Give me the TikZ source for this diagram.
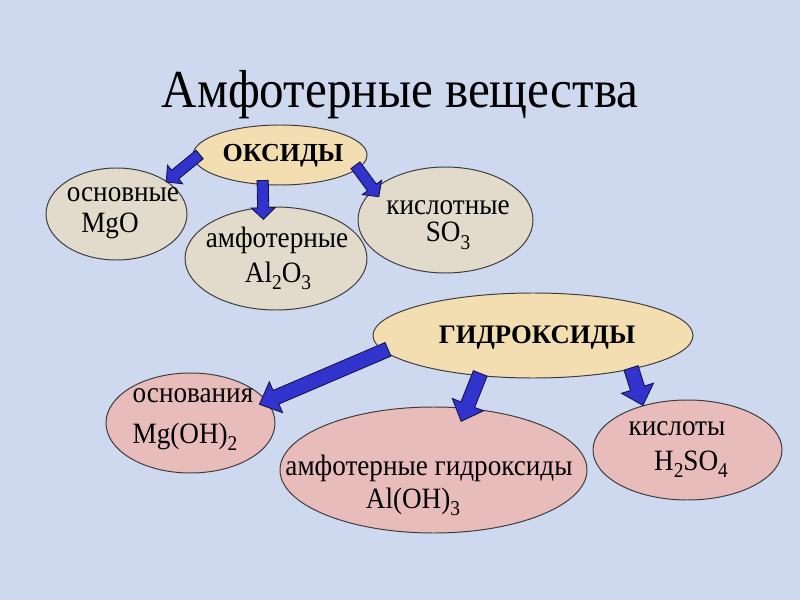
\documentclass[tikz,border=0pt]{standalone}
\usepackage{fontspec}
\setmainfont{Liberation Serif}
\newfontfamily\slidefont{Liberation Serif}[FakeStretch=0.92]
\usepackage{tikz}
\usetikzlibrary{shapes.geometric}
\usetikzlibrary{calc}

\definecolor{slidebg}{RGB}{206,217,240}
\definecolor{tanfill}{RGB}{243,222,177}
\definecolor{greyfill}{RGB}{226,218,202}
\definecolor{pinkfill}{RGB}{233,188,188}
\definecolor{ovalline}{RGB}{60,60,60}
\definecolor{arrowblue}{RGB}{50,50,205}
\definecolor{arrowline}{RGB}{20,20,70}

\newcommand{\aw}{0.14cm}
\newcommand{\ahw}{0.3cm}
\newcommand{\ahl}{0.29cm}
\newcommand{\idx}[1]{\raisebox{-0.27em}{\fontsize{15}{15}\selectfont #1}}

\tikzset{
  oval/.style={ellipse,draw=ovalline,line width=0.7pt,inner sep=0pt},
  txt/.style={anchor=base,inner sep=0pt,font=\slidefont\fontsize{21}{25}\selectfont},
  head/.style={anchor=base,inner sep=0pt,font=\fontsize{18.5}{22}\selectfont\bfseries},
  arrowbody/.style={draw=arrowline,fill=arrowblue,line width=0.6pt,line join=miter},
  big arrow/.code={\def\aw{0.185cm}\def\ahw{0.42cm}\def\ahl{0.45cm}}
}

\newcommand{\blockarrow}[5][]{%
  \path[arrowbody,#1] let \p1=(#2), \p2=(#3),
    \n1={atan2(\y2-\y1,\x2-\x1)}, \n2={veclen(\x2-\x1,\y2-\y1)+#5},
    \n3={\n2-\ahl} in
    [shift={(\p1)},rotate=\n1]
    (-#4,-\aw) -- (\n3,-\aw) -- (\n3,-\ahw) -- (\n2,0pt)
    -- (\n3,\ahw) -- (\n3,\aw) -- (-#4,\aw) -- cycle;}

\begin{document}
\begin{tikzpicture}
  \fill[slidebg] (0,0) rectangle (20,15);
  \useasboundingbox (0,0) rectangle (20,15);

  \node[anchor=base,inner sep=0pt,font=\slidefont\fontsize{38}{44}\selectfont] (title) at (10,12.3) {Амфотерные вещества};

  \node[oval,fill=tanfill,minimum width=4.35cm,minimum height=1.5cm] (ox) at (7.0,11.125) {};
  \node[oval,fill=greyfill,minimum width=3.525cm,minimum height=2.3cm] (osn) at (2.9125,9.65) {};
  \node[oval,fill=greyfill,minimum width=4.55cm,minimum height=2.575cm] (amf) at (6.9,8.5375) {};
  \node[oval,fill=greyfill,minimum width=4.375cm,minimum height=2.65cm] (kis) at (11.1375,9.5) {};

  \node[oval,fill=tanfill,minimum width=8cm,minimum height=2.125cm] (gid) at (13.325,6.6125) {};
  \node[oval,fill=pinkfill,minimum width=4.225cm,minimum height=2.5cm] (osnov) at (4.7625,4.425) {};
  \node[oval,fill=pinkfill,minimum width=7.675cm,minimum height=3.15cm] (amfg) at (10.8375,3.25) {};
  \node[oval,fill=pinkfill,minimum width=4.725cm,minimum height=2.5cm] (kisl) at (17.1875,3.75) {};

  \node[head] (ox text) at (7.075,10.95) {ОКСИДЫ};
  \node[txt] (osn text) at (3.075,9.95) {основные};
  \node[txt] (osn formula) at (2.75,9.175) {MgO};
  \node[txt] (amf text) at (6.925,8.8) {амфотерные};
  \node[txt] (amf formula) at (6.95,7.95) {Al\idx{2}O\idx{3}};
  \node[txt] (kis text) at (11.2,9.625) {кислотные};
  \node[txt] (kis formula) at (11.2,8.95) {SO\idx{3}};

  \node[head,font=\fontsize{19}{23}\selectfont\bfseries] (gid text) at (13.425,6.425) {ГИДРОКСИДЫ};
  \node[txt] (osnov text) at (4.825,4.95) {основания};
  \node[txt] (osnov formula) at (4.625,3.925) {Mg(OH)\idx{2}};
  \node[txt] (amfg text) at (10.725,3.125) {амфотерные гидроксиды};
  \node[txt] (amfg formula) at (10.325,2.3) {Al(OH)\idx{3}};
  \node[txt] (kisl text) at (16.925,4.125) {кислоты};
  \node[txt] (kisl formula) at (17.275,3.25) {H\idx{2}SO\idx{4}};

  \blockarrow{ox.183}{osn.33}{0.2cm}{0.025cm}
  \blockarrow{ox.240}{amf.104}{0.11cm}{0.31cm}
  \blockarrow{ox.350}{kis.157}{0.11cm}{0.23cm}
  \blockarrow[big arrow]{gid.186}{osnov.16}{0.12cm}{0.21cm}
  \blockarrow[big arrow]{gid.217}{amfg.62}{0.07cm}{0.36cm}
  \blockarrow[big arrow]{gid.341}{kisl.135}{0.04cm}{0cm}
\end{tikzpicture}
\end{document}
